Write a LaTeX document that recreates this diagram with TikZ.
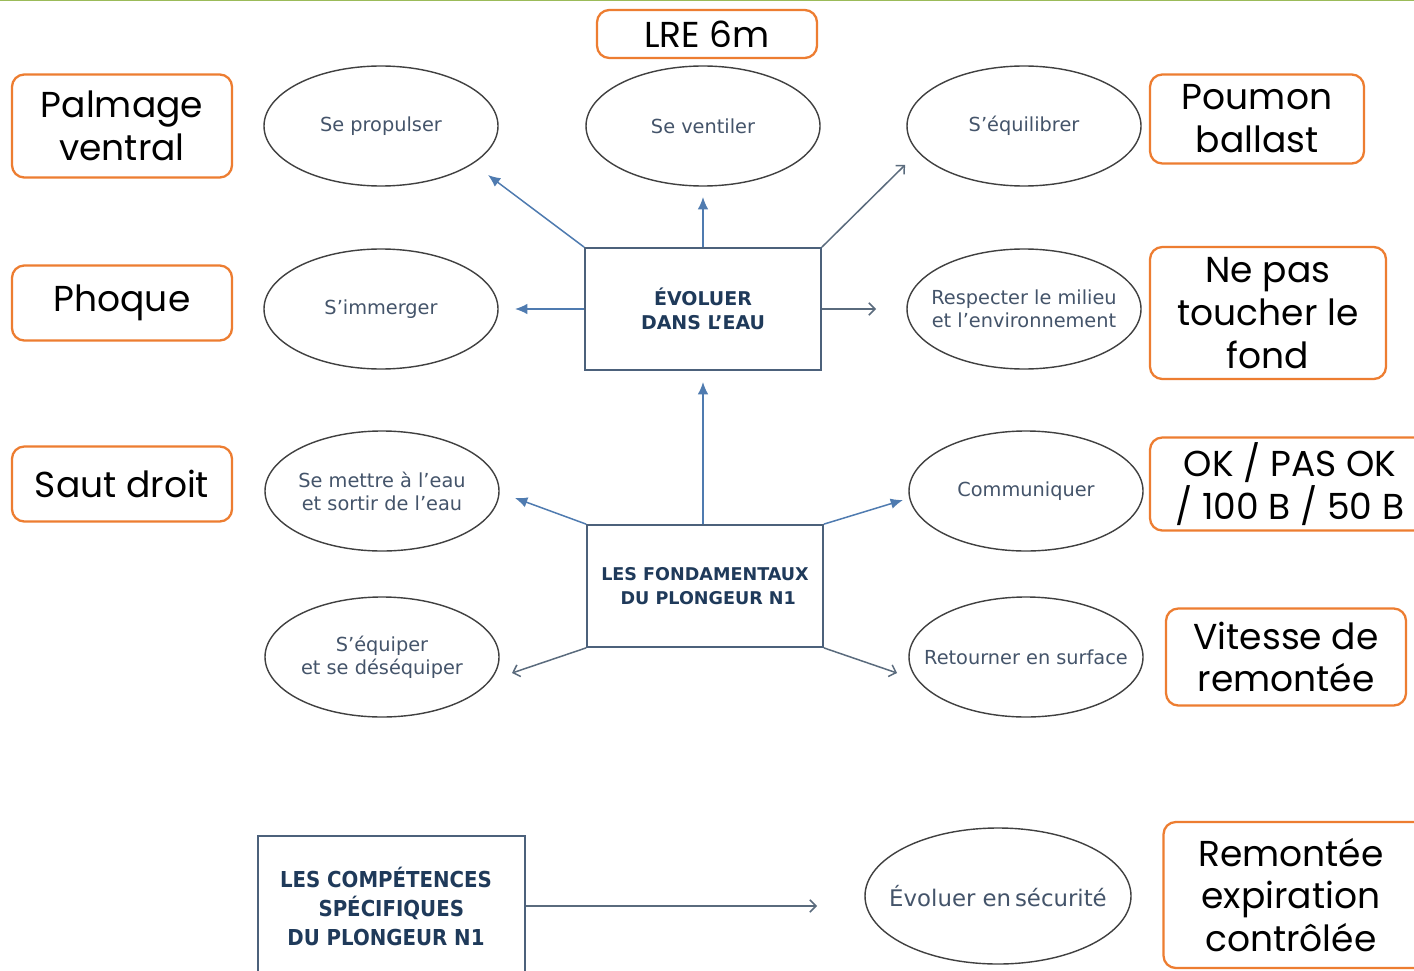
\documentclass[tikz,border=0pt]{standalone}
\usepackage{fontspec}
\usepackage{tikz}
\usetikzlibrary{shapes,arrows.meta,positioning}
\setmainfont{DejaVu Sans}
\newfontfamily\notefont{Poppins}
\newfontfamily\condfont{DejaVu Sans Condensed}
\definecolor{ovaltext}{HTML}{44546A}
\definecolor{boxtext}{HTML}{1F3A5A}
\definecolor{linkblue}{HTML}{4F7BB0}
\definecolor{linkgray}{HTML}{5A6B7D}
\definecolor{noteorange}{HTML}{ED7D31}
\definecolor{topgreen}{HTML}{9BBB59}

\begin{document}
\begin{tikzpicture}[x=0.2mm, y=-0.2mm]
			\tikzstyle{Oval}	= [ellipse, draw=black!75, line width=0.8pt, minimum width=4.68cm, minimum height=2.4cm, inner xsep=-16pt, inner ysep=0pt, align=center, text=ovaltext, font=\fontsize{11}{13}\selectfont]
			\tikzstyle{Box}		= [rectangle, draw=boxtext!80, line width=1pt, minimum width=4.72cm, minimum height=2.44cm, inner sep=0pt, text=boxtext, font=\bfseries\fontsize{10.8}{13.6}\selectfont]
			\tikzstyle{Note}	= [rectangle, rounded corners=7pt, draw=noteorange, line width=1.3pt, inner sep=0pt, align=center, font=\notefont\fontsize{20.5}{24.4}\selectfont]
			\tikzstyle{Solid}	= [linkblue, line width=0.85pt, -{Latex[length=7pt,width=6pt]}]
			\tikzstyle{Open}	= [linkgray, line width=0.85pt, -{Straight Barb[length=3.5pt,width=7pt]}]

			\clip (0,0) rectangle (1414,970);
			\fill [white] (0,0) rectangle (1414,970);
			\draw [topgreen, line width=1.2pt] (0,0) -- (1414,0);

			\node (evol) at (703,309) [Box, align=center] {ÉVOLUER\\DANS L’EAU};
			\node (fond) at (705,586) [Box, align=left, font=\bfseries\fontsize{10}{13.6}\selectfont] {LES FONDAMENTAUX\\\hspace*{11pt}DU PLONGEUR N1};
			\node (compet) at (391.5,921) [Box, minimum width=5.34cm, minimum height=3.4cm] {};
			\node (competText) at (386,906) [text=boxtext, align=center, font=\condfont\bfseries\fontsize{12.5}{16.5}\selectfont] {LES COMPÉTENCES\\\hspace*{6pt}SPÉCIFIQUES\\DU PLONGEUR N1};

			\node (prop) at (381,126) [Oval] {Se propulser};
			\node (vent) at (703,126) [Oval] {Se ventiler};
			\node (equil) at (1024,126) [Oval] {S’équilibrer};
			\node (immer) at (381,309) [Oval] {S’immerger};
			\node (respect) at (1024,309) [Oval] {Respecter le milieu\\et l’environnement};
			\node (mettre) at (382,491) [Oval] {Se mettre à l’eau\\et sortir de l’eau};
			\node (comm) at (1026,491) [Oval] {Communiquer};
			\node (equip) at (382,657) [Oval] {S’équiper\\et se déséquiper};
			\node (retour) at (1026,657) [Oval] {Retourner en surface};
			\node (secu) at (998,896) [Oval, minimum width=5.32cm, minimum height=2.72cm, inner xsep=-20pt, font=\fontsize{13}{15}\selectfont] {Évoluer en\,sécurité};

			\coordinate (propTip) at (488,175);
			\coordinate (ventTip) at (703,197);
			\coordinate (equilTip) at (905,165);
			\coordinate (immerTip) at (515,309);
			\coordinate (respectTip) at (876,309);
			\coordinate (evolTip) at (703,382);
			\coordinate (mettreTip) at (515,498);
			\coordinate (commTip) at (903,500);
			\coordinate (equipTip) at (512,673);
			\coordinate (retourTip) at (897,673);
			\coordinate (secuTip) at (817,906);

			\draw (evol.north west) to (propTip) [Solid];
			\draw (evol.north) to (ventTip) [Solid];
			\draw (evol.north east) to (equilTip) [Open];
			\draw (evol.west) to (immerTip) [Solid];
			\draw (evol.east) to (respectTip) [Open];
			\draw (fond.north -| evolTip) to (evolTip) [Solid];
			\draw (fond.north west) to (mettreTip) [Solid];
			\draw (fond.north east) to (commTip) [Solid];
			\draw (fond.south west) to (equipTip) [Open];
			\draw (fond.south east) to (retourTip) [Open];
			\draw (compet.east |- secuTip) to (secuTip) [Open];

			\node (lre) at (707,34) [Note, minimum width=4.4cm, minimum height=0.96cm] {LRE 6m};
			\node (palmage) at (122,126) [Note, minimum width=4.4cm, minimum height=2.06cm] {Palmage\\ventral};
			\node (phoque) at (122,303) [Note, minimum width=4.4cm, minimum height=1.5cm] {Phoque};
			\node (saut) at (122,484) [Note, minimum width=4.4cm, minimum height=1.5cm] {Saut droit};
			\node (poumon) at (1257,119) [Note, minimum width=4.28cm, minimum height=1.78cm] {Poumon\\ballast};
			\node (fondNote) at (1268,313) [Note, minimum width=4.72cm, minimum height=2.64cm] {Ne pas\\toucher le\\fond};
			\node (okNote) at (1290,484) [Note, minimum width=5.6cm, minimum height=1.86cm] {OK / PAS OK\\/ 100 B / 50 B};
			\node (vitesse) at (1286,657) [Note, minimum width=4.8cm, minimum height=1.94cm] {Vitesse de\\remontée};
			\node (remontee) at (1305,895) [Note, minimum width=5.66cm, minimum height=2.92cm] {\hspace*{-16pt}Remontée\\\hspace*{-16pt}expiration\\\hspace*{-16pt}contrôlée};
		\end{tikzpicture}
\end{document}
